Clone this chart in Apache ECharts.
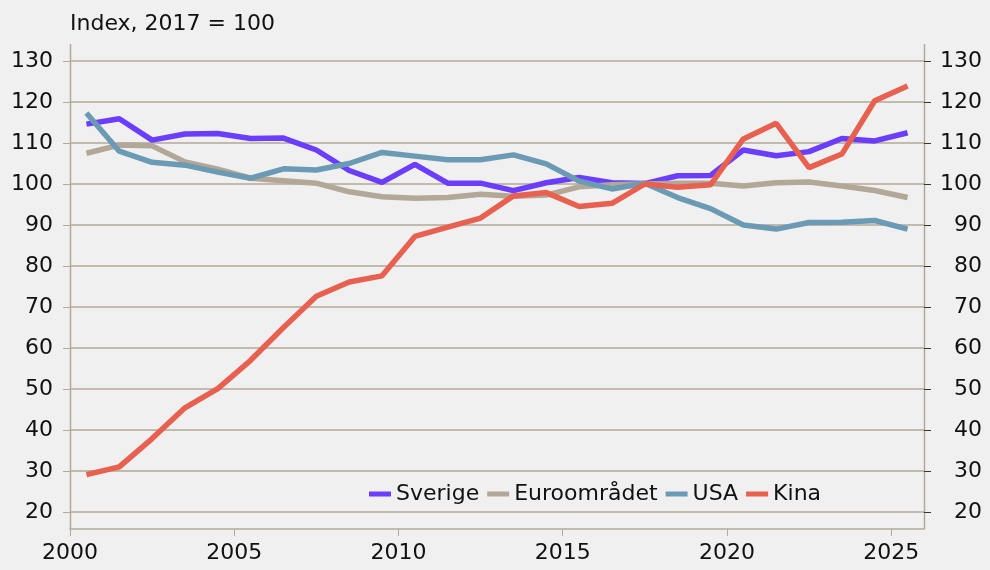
<!DOCTYPE html>
<html>
<head>
<meta charset="utf-8">
<title>Index, 2017 = 100</title>
<script src="https://cdn.jsdelivr.net/npm/echarts@6/dist/echarts.min.js"></script>
<style>
  html, body { margin: 0; padding: 0; background: #f0f0f0; }
  #chart { width: 990px; height: 570px; }
</style>
</head>
<body>
<div id="chart"></div>
<script>
// annual data, plotted at mid-year
var years = [2000, 2001, 2002, 2003, 2004, 2005, 2006, 2007, 2008, 2009, 2010, 2011, 2012,
             2013, 2014, 2015, 2016, 2017, 2018, 2019, 2020, 2021, 2022, 2023, 2024, 2025];
var sverige = [114.6, 115.9, 110.7, 112.2, 112.3, 111.1, 111.2, 108.3, 103.3, 100.4, 104.8, 100.2, 100.2,
               98.4, 100.3, 101.6, 100.3, 100.1, 102.0, 102.1, 108.3, 106.9, 107.9, 111.1, 110.5, 112.5];
var euro = [107.5, 109.5, 109.3, 105.4, 103.6, 101.4, 100.8, 100.2, 98.1, 96.9, 96.5, 96.7, 97.5,
            97.0, 97.3, 99.3, 99.8, 100.0, 100.2, 100.2, 99.5, 100.3, 100.5, 99.5, 98.4, 96.7];
var usa = [117.3, 108.0, 105.3, 104.6, 102.9, 101.4, 103.7, 103.4, 105.0, 107.7, 106.8, 105.9, 105.9,
           107.1, 104.9, 100.7, 98.8, 100.2, 96.7, 94.0, 90.0, 89.0, 90.6, 90.7, 91.1, 89.0];
var kina = [29.1, 31.0, 37.9, 45.4, 50.1, 57.0, 65.0, 72.6, 76.1, 77.6, 87.2, 89.5, 91.7,
            97.1, 97.9, 94.5, 95.3, 100.0, 99.2, 99.8, 111.0, 114.8, 104.0, 107.3, 120.3, 123.9];
var xTicks = [2000, 2005, 2010, 2015, 2020, 2025];
var seriesNames = ['Sverige', 'Euroområdet', 'USA', 'Kina'];
var seriesColors = ['#6a3dff', '#b3a797', '#6b9bb4', '#e8604f'];

var gridColor = '#b5a999';
var fontFamily = 'DejaVu Sans';

function toPoints(values) {
  return values.map(function (v, i) { return [years[i] + 0.5, v]; });
}

var chart = echarts.init(document.getElementById('chart'));
var allData = [sverige, euro, usa, kina];

chart.setOption({
  backgroundColor: '#f0f0f0',
  animation: false,
  textStyle: { fontFamily: fontFamily },
  title: {
    text: 'Index, 2017 = 100',
    left: 65, top: 8,
    textStyle: { fontSize: 22, fontWeight: 'normal', color: '#111', fontFamily: fontFamily }
  },
  legend: {
    data: seriesNames.map(function (n) { return { name: n, icon: 'rect' }; }),
    left: 364, top: 478,
    icon: 'rect', itemWidth: 22, itemHeight: 5, itemGap: 8,
    textStyle: { fontSize: 22, color: '#111', fontFamily: fontFamily }
  },
  grid: { left: 70, right: 66, top: 61, bottom: 58 },
  graphic: [
    { type: 'line', shape: { x1: 70.5, y1: 44, x2: 70.5, y2: 529 }, style: { stroke: gridColor, lineWidth: 1.5 } },
    { type: 'line', shape: { x1: 924.5, y1: 44, x2: 924.5, y2: 529 }, style: { stroke: gridColor, lineWidth: 1.5 } }
  ],
  xAxis: {
    type: 'value', min: 2000, max: 2026, offset: 17,
    axisLine: { show: true, lineStyle: { color: gridColor, width: 1.5 } },
    axisTick: { show: true, length: 7, customValues: xTicks, lineStyle: { color: gridColor } },
    axisLabel: {
      customValues: xTicks, fontSize: 22, color: '#111', margin: 13,
      formatter: function (v) { return String(v); }
    },
    splitLine: { show: false }
  },
  yAxis: [{
    type: 'value', min: 20, max: 130, interval: 10, position: 'left',
    axisLine: { show: false },
    axisTick: { show: true, length: 7, lineStyle: { color: gridColor } },
    axisLabel: { fontSize: 22, color: '#111', margin: 17 },
    splitLine: { show: true, lineStyle: { color: gridColor, width: 1.5 } }
  }, {
    type: 'value', min: 20, max: 130, interval: 10, position: 'right',
    axisLine: { show: false },
    axisTick: { show: true, length: 7, lineStyle: { color: '#333' } },
    axisLabel: { fontSize: 22, color: '#111', margin: 58, align: 'right' },
    splitLine: { show: false }
  }],
  series: seriesNames.map(function (name, i) {
    return {
      name: name, type: 'line', data: toPoints(allData[i]),
      showSymbol: false, symbol: 'none', legendIcon: 'rect',
      lineStyle: { color: seriesColors[i], width: 5.5 },
      itemStyle: { color: seriesColors[i] }
    };
  })
});
</script>
</body>
</html>
